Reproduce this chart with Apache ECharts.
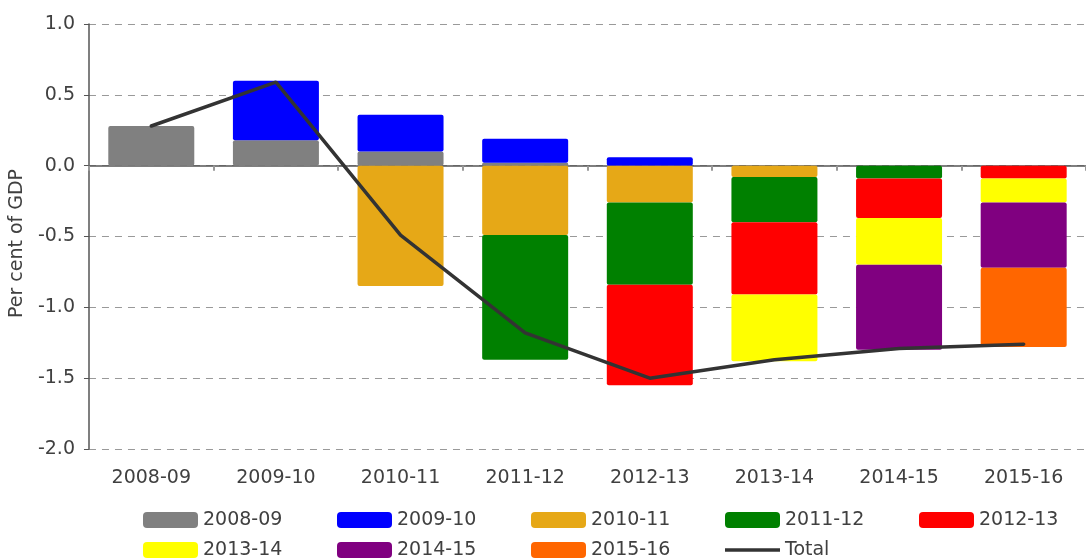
<!DOCTYPE html>
<head>
	<meta charset="utf-8">
	<title>Per cent of GDP</title>
	<script src="https://cdn.jsdelivr.net/npm/echarts@6/dist/echarts.min.js"></script>
</head>
<body style="margin:0">
	<div id="main" style="width:1086px; height:558px"></div>
	<script type="text/javascript">
	// 年份（横轴）
	var years = ['2008-09', '2009-10', '2010-11', '2011-12', '2012-13', '2013-14', '2014-15', '2015-16'];

	// 各年度的贡献，null 表示没有
	var s0809 = [0.28, 0.18, 0.10, 0.02, null, null, null, null];
	var s0910 = [null, 0.42, 0.26, 0.17, 0.06, null, null, null];
	var s1011 = [null, null, -0.85, -0.49, -0.26, -0.08, null, null];
	var s1112 = [null, null, null, -0.88, -0.58, -0.32, -0.09, null];
	var s1213 = [null, null, null, null, -0.71, -0.51, -0.28, -0.09];
	var s1314 = [null, null, null, null, null, -0.47, -0.33, -0.17];
	var s1415 = [null, null, null, null, null, null, -0.60, -0.46];
	var s1516 = [null, null, null, null, null, null, null, -0.56];
	var total = [0.28, 0.59, -0.49, -1.18, -1.50, -1.37, -1.29, -1.26];

	var yTicks = [-2.0, -1.5, -1.0, -0.5, 0.0, 0.5, 1.0];

	var barNames = ['2008-09', '2009-10', '2010-11', '2011-12', '2012-13', '2013-14', '2014-15', '2015-16'];
	var barData = [s0809, s0910, s1011, s1112, s1213, s1314, s1415, s1516];
	var barColors = ['#808080', '#0000ff', '#e6a817', '#008000', '#ff0000', '#ffff00', '#800080', '#ff6600'];

	var font = 'DejaVu Sans';
	var textColor = '#404040';

	var series = barNames.map(function (name, i) {
		return {
			name: name,
			type: 'bar',
			stack: 'all',
			xAxisIndex: 0,
			barCategoryGap: '31%',
			data: barData[i],
			itemStyle: {color: barColors[i], borderRadius: 2},
			emphasis: {disabled: true}
		};
	});
	series.push({
		name: 'Total',
		type: 'line',
		xAxisIndex: 0,
		data: total,
		symbol: 'none',
		lineStyle: {color: '#333333', width: 3.5, cap: 'round'},
		itemStyle: {color: '#333333'},
		z: 5
	});

	var legendData = barNames.map(function (n) { return {name: n, icon: 'roundRect'}; });
	// 图例里的 Total 只画一条粗线（前后两个 M 点撑开图标框）
	legendData.push({name: 'Total', icon: 'path://M0,0 M0,6.3 L55,6.3 L55,9.7 L0,9.7 Z M55,16'});

	var myChart = echarts.init(document.getElementById('main'));
	var option = {
		backgroundColor: '#ffffff',
		animation: false,
		textStyle: {fontFamily: font},
		grid: {left: 88, right: -12, top: 24, bottom: 109, containLabel: false},
		legend: {
			data: legendData,
			left: 143,
			top: 510,
			width: 980,
			padding: 0,
			itemWidth: 55,
			itemHeight: 16,
			itemGap: 10,
			textStyle: {fontFamily: font, fontSize: 19, color: textColor, width: 124, lineHeight: 20}
		},
		xAxis: [
			{
				// 零线及刻度
				type: 'category',
				data: years,
				axisLine: {onZero: true, lineStyle: {color: '#555555', width: 1.5}},
				axisTick: {show: true, length: 5, lineStyle: {color: '#999999', width: 2}},
				axisLabel: {show: false},
				splitLine: {show: false}
			},
			{
				// 底部标签
				type: 'category',
				data: years,
				position: 'bottom',
				axisLine: {show: false, onZero: false},
				axisTick: {show: false},
				axisLabel: {fontFamily: font, fontSize: 19, color: textColor, margin: 20},
				splitLine: {show: false}
			}
		],
		yAxis: {
			type: 'value',
			min: yTicks[0],
			max: yTicks[yTicks.length - 1],
			interval: 0.5,
			name: 'Per cent of GDP',
			nameLocation: 'middle',
			nameGap: 54,
			nameTextStyle: {fontFamily: font, fontSize: 19, color: textColor, padding: [0, 14, 0, 0]},
			axisLine: {show: true, lineStyle: {color: '#555555', width: 1.5}},
			axisTick: {show: true, length: 5, lineStyle: {color: '#555555'}},
			axisLabel: {
				fontFamily: font, fontSize: 19, color: textColor, margin: 14,
				formatter: function (v) { return v.toFixed(1); }
			},
			splitLine: {show: true, lineStyle: {color: '#999999', type: [7, 6], width: 1}}
		},
		series: series
	};
	myChart.setOption(option);
	</script>
</body>
